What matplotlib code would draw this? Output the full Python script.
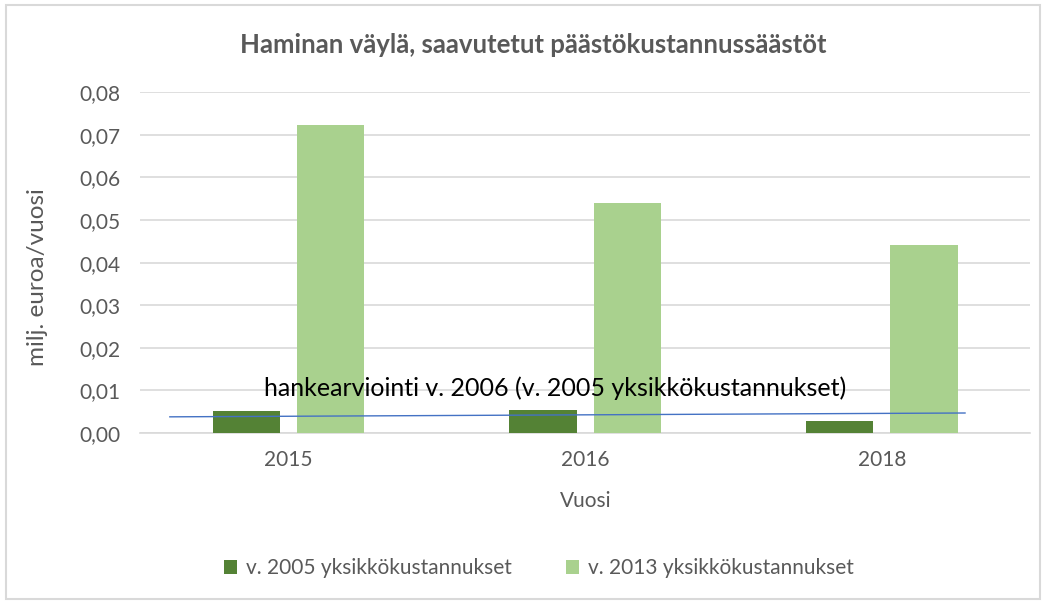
import numpy as np
import matplotlib.pyplot as plt
from matplotlib.ticker import FuncFormatter

years = ['2015', '2016', '2018']
costs_2005 = [0.0052, 0.0054, 0.0028]
costs_2013 = [0.0722, 0.0540, 0.0441]

# hankearviointi-viiva (x kategoria-asteikolla)
line_x = [-0.40, 2.28]
line_y = [0.0038, 0.0047]

plt.rcParams['font.family'] = ['Lato', 'DejaVu Sans']

fig = plt.figure(figsize=(10.46, 6.01), dpi=100)
ax = fig.add_axes([0.134, 0.2795, 0.851, 0.567])

x = np.arange(len(years))
w = 0.227
ax.bar(x - 0.142, costs_2005, w, color='#548235', label='v. 2005 yksikkökustannukset', zorder=3)
ax.bar(x + 0.142, costs_2013, w, color='#a9d18e', label='v. 2013 yksikkökustannukset', zorder=3)
ax.plot(line_x, line_y, color='#4472c4', lw=1.0, zorder=4)

ax.text(0.9, 0.0106, 'hankearviointi v. 2006 (v. 2005 yksikkökustannukset)',
        ha='center', va='center', fontsize=18, color='black', zorder=5)

ax.set_xlim(-0.5, 2.5)
ax.set_ylim(0, 0.08)
ax.set_xticks(x)
ax.set_xticklabels(years)
ax.set_yticks(np.arange(0, 0.081, 0.01))
ax.yaxis.set_major_formatter(FuncFormatter(lambda v, p: f'{v:.2f}'.replace('.', ',')))
ax.grid(axis='y', color='#d9d9d9', lw=1.2, zorder=0)
for s in ['top', 'right', 'left']:
    ax.spines[s].set_visible(False)
ax.spines['bottom'].set_color('#d9d9d9')
ax.spines['bottom'].set_linewidth(1.2)
ax.tick_params(length=0, labelsize=15, colors='#595959')
ax.tick_params(axis='y', pad=14)
ax.tick_params(axis='x', pad=12)

ax.set_ylabel('milj. euroa/vuosi', fontsize=17.5, color='#595959')
ax.yaxis.set_label_coords(-0.104, 0.457)
ax.set_xlabel('Vuosi', fontsize=15, color='#595959', labelpad=15)
fig.suptitle('Haminan väylä, saavutetut päästökustannussäästöt', x=0.51, y=0.925,
             va='center', fontsize=18.5, fontweight='bold', color='#595959')

fig.legend(loc='center', bbox_to_anchor=(0.515, 0.055), ncol=2, frameon=False,
           fontsize=15, labelcolor='#595959', handlelength=0.65, handleheight=0.65,
           columnspacing=2.6, handletextpad=0.4)

# kehys kaavion ympärillä
fig.patches.append(plt.Rectangle((0.006, 0.003), 0.988, 0.988, transform=fig.transFigure,
                                 fill=False, edgecolor='#d9d9d9', lw=1.5))

fig.savefig('out.png', dpi=100)
